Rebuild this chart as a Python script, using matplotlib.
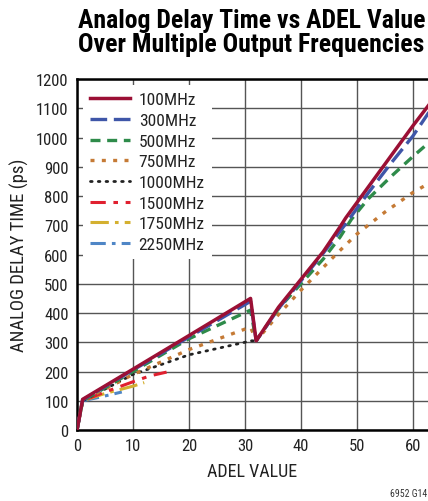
import matplotlib.pyplot as plt

plt.rcParams['font.family'] = ['Roboto Condensed', 'Archivo Narrow', 'DejaVu Sans']

# ADEL value / delay (ps)
adel_100 = [0, 1, 10, 20, 31, 32, 36, 40, 44, 47, 48, 52, 56, 60, 63]
delay_100 = [0, 105, 208, 323, 450, 305, 420, 515, 610, 695, 725, 830, 935, 1040, 1115]

adel_300 = [0, 1, 10, 20, 31, 32, 36, 40, 44, 48, 52, 56, 60, 63]
delay_300 = [0, 103, 205, 318, 440, 305, 415, 510, 605, 705, 810, 910, 1005, 1090]

adel_500 = [0, 1, 10, 20, 31, 32, 36, 40, 44, 47, 49, 52, 56, 60, 63]
delay_500 = [0, 100, 200, 312, 410, 305, 415, 500, 585, 660, 720, 790, 865, 935, 985]

adel_750 = [0, 1, 10, 20, 31, 32, 36, 40, 46.5, 50, 55, 60, 63]
delay_750 = [0, 100, 190, 275, 352, 305, 395, 478, 605, 670, 745, 812, 845]

adel_1000 = [0, 1, 10, 20, 30, 31, 32]
delay_1000 = [0, 100, 190, 257, 300, 305, 305]

adel_1500 = [0, 1, 5, 10, 13, 16]
delay_1500 = [0, 100, 130, 165, 185, 198]

adel_1750 = [0, 1, 5, 10, 12]
delay_1750 = [0, 100, 125, 150, 162]

adel_2250 = [0, 1, 4, 8]
delay_2250 = [0, 100, 112, 130]

fig = plt.figure(figsize=(4.28, 5.02), dpi=100)
ax = fig.add_axes([0.18, 0.1414, 0.82, 0.6992])

ax.plot(adel_2250, delay_2250, color='#4f86c6', lw=2.2, dashes=(5, 2, 1.2, 2), label='2250MHz', zorder=3)
ax.plot(adel_1750, delay_1750, color='#d4b030', lw=2.2, dashes=(6, 2, 1.2, 2), label='1750MHz', zorder=3)
ax.plot(adel_1500, delay_1500, color='#e0202f', lw=2.2, dashes=(5, 2.5, 1.5, 2.5), label='1500MHz', zorder=3)
ax.plot(adel_1000, delay_1000, color='#222222', lw=2.0, dashes=(0.6, 2.2), dash_capstyle='round', label='1000MHz', zorder=3)
ax.plot(adel_750, delay_750, color='#c57a35', lw=2.4, dashes=(1.2, 2.2), label='750MHz', zorder=4)
ax.plot(adel_500, delay_500, color='#2e8b4a', lw=2.4, dashes=(3, 2), label='500MHz', zorder=5)
ax.plot(adel_300, delay_300, color='#3f56a8', lw=2.4, dashes=(5, 2), label='300MHz', zorder=6)
ax.plot(adel_100, delay_100, color='#9b1035', lw=2.5, label='100MHz', zorder=7)

ax.set_xlim(0, 62.7)
ax.set_ylim(0, 1200)
ax.set_xticks(range(0, 61, 10))
ax.set_yticks(range(0, 1201, 100))
ax.grid(True, color='#555555', lw=1.0)
ax.tick_params(length=0, labelsize=12, labelcolor='#222222', pad=6)
ax.spines['right'].set_visible(False)
for s in ['top', 'left', 'bottom']:
    ax.spines[s].set_linewidth(1.8)

ax.set_xlabel('ADEL VALUE', fontsize=13, color='#222222', labelpad=6)
ax.set_ylabel('ANALOG DELAY TIME (ps)', fontsize=13.5, color='#222222', labelpad=5)

handles, labels = ax.get_legend_handles_labels()
leg = ax.legend(handles[::-1], labels[::-1], loc='upper left', fontsize=12.5,
                handlelength=2.3, handletextpad=0.5, labelspacing=0.32,
                frameon=True, framealpha=1, edgecolor='none',
                borderaxespad=0.35, borderpad=0.4)
leg.get_frame().set_facecolor('white')
leg.set_zorder(10)
for t in leg.get_texts():
    t.set_color('#222222')

fig.text(0.182, 0.982, 'Analog Delay Time vs ADEL Value\nOver Multiple Output Frequencies',
         ha='left', va='top', fontsize=18.5, fontweight='bold', linespacing=1.02)
fig.text(0.998, 0.005, '6952 G14', ha='right', va='bottom', fontsize=7, color='#333333')

fig.savefig('out.png', dpi=100)
